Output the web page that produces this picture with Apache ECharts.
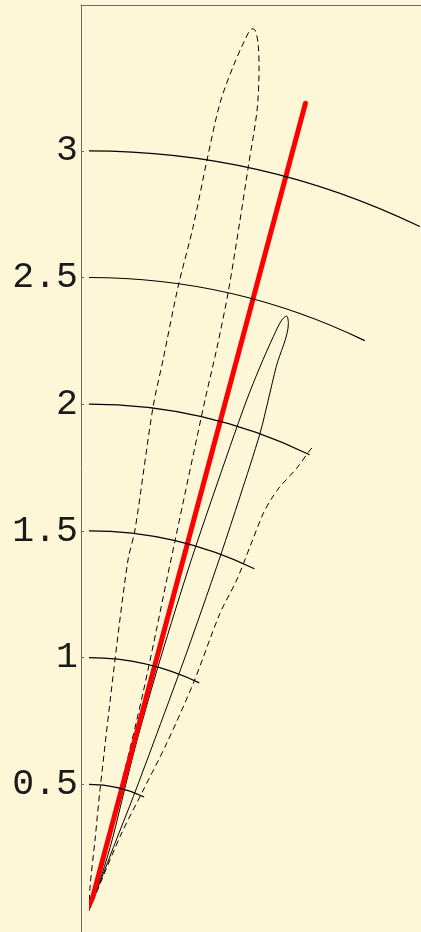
<!DOCTYPE html>
<html>
<head>
<meta charset="utf-8">
<script src="https://cdn.jsdelivr.net/npm/echarts@6/dist/echarts.min.js"></script>
<style>
  html, body { margin: 0; padding: 0; background: #fdf7d8; }
  #chart { width: 421px; height: 932px; }
</style>
</head>
<body>
<div id="chart"></div>
<script>
// Radii of the constant-magnitude arcs and their labels on the left axis
const radialTicks = [0.5, 1, 1.5, 2, 2.5, 3];
const tickLabels = ['0.5', '1', '1.5', '2', '2.5', '3'];

// Angular sweep of the plot, degrees measured clockwise from the vertical
const sweepMax = 25.8;

// Reference direction (thick red ray): [radius, angle]
const redRay = [[0, 15], [3.3, 15]];

// Dashed lobe: [radius, angle]
const dashedLobe = [
  [0, 1.5], [0.095, 2.4], [0.281, 4.83], [0.48, 5.19], [0.996, 5.91],
  [1.394, 6.34], [1.515, 6.88], [2.005, 7.24], [2.194, 7.65], [2.487, 8.12],
  [2.73, 8.65], [3.0, 8.93], [3.23, 9.21], [3.379, 9.68], [3.492, 10.15],
  [3.54, 10.47], [3.538, 10.67], [3.49, 11.02], [3.398, 11.39], [3.23, 11.85],
  [3.004, 12.08], [2.791, 12.33], [2.5, 12.68], [2.271, 12.8], [2.068, 12.79],
  [1.496, 13.08], [1.342, 13.21], [1.152, 13.47], [0.886, 13.91], [0.627, 14.21],
  [0.3, 14.4], [0, 14.5]
];

// Solid lobe: [radius, angle]
const solidLobe = [
  [0, 20.5], [0.15, 19.5], [0.3, 18], [0.5, 16.3], [0.7, 15.7], [1.03, 15.8],
  [1.45, 16.25], [1.92, 16.9], [2.11, 17.15], [2.25, 17.44], [2.38, 17.79],
  [2.453, 18.06], [2.474, 18.38], [2.449, 18.74], [2.272, 18.98], [2.137, 19.33],
  [2.002, 19.7], [1.74, 20.02], [1.5, 20.3], [1.268, 20.53], [1.059, 20.73],
  [0.709, 20.98], [0.484, 21.18], [0.286, 21.0], [0, 20.5]
];

// Open dashed branch: [radius, angle]
const dashedBranch = [
  [0, 21.5], [0.318, 22.65], [0.523, 24.17], [0.729, 24.86], [0.988, 24.61],
  [1.283, 23.75], [1.43, 24.05], [1.572, 23.84], [1.714, 23.67], [1.781, 23.88],
  [1.836, 24.23], [1.93, 25.13], [2.017, 25.61], [2.028, 25.72]
];

// Pixel scale shared by the frame axis and the polar systems
const originX = 89, originY = 911, unitPx = 253.4;
const frameTop = 5, frameLeft = 81, H = 932;
const yTop = (originY - frameTop) / unitPx;
const yBottom = -(H - originY) / unitPx;
// Outer radius of the polar system that carries the curves
const curveRMax = 3.6;

const chart = echarts.init(document.getElementById('chart'), null, { renderer: 'canvas' });

const dash = [6, 4];
const hiddenAxis = {
  axisLine: { show: false }, axisTick: { show: false },
  axisLabel: { show: false }, splitLine: { show: false }
};
const angleCommon = {
  type: 'value', min: 0, max: sweepMax, startAngle: 90, endAngle: 90 - sweepMax,
  clockwise: true
};

chart.setOption({
  backgroundColor: '#fdf7d8',
  animation: false,
  grid: { left: frameLeft, top: frameTop, right: 0, bottom: 0 },
  xAxis: {
    type: 'value', position: 'top', min: 0, max: 1,
    axisLine: { show: true, onZero: false, lineStyle: { color: '#6b6b6b', width: 1 } },
    axisTick: { show: false }, axisLabel: { show: false }, splitLine: { show: false }
  },
  yAxis: {
    type: 'value', min: yBottom, max: yTop,
    axisLine: { show: true, onZero: false, lineStyle: { color: '#6b6b6b', width: 1 } },
    axisTick: { show: true, inside: true, length: 3, customValues: radialTicks,
      lineStyle: { color: '#6b6b6b' } },
    axisLabel: {
      show: true, customValues: radialTicks, margin: 3,
      formatter: v => tickLabels[radialTicks.indexOf(v)] ?? String(v),
      fontFamily: 'Liberation Mono', fontSize: 36.5, color: '#1a1a1a'
    },
    splitLine: { show: false }
  },
  polar: [
    { center: [originX, originY], radius: [0, 3 * unitPx] },
    { center: [originX, originY], radius: [0, curveRMax * unitPx] }
  ],
  radiusAxis: [
    {
      polarIndex: 0, type: 'value', min: 0, max: 3, interval: 0.5, z: 5,
      axisLine: { show: false }, axisTick: { show: false }, axisLabel: { show: false },
      splitLine: { show: true, lineStyle: { color: '#000', width: 1.2 } }
    },
    Object.assign({ polarIndex: 1, type: 'value', min: 0, max: curveRMax }, hiddenAxis)
  ],
  angleAxis: [
    Object.assign({ polarIndex: 0 }, angleCommon, hiddenAxis),
    Object.assign({ polarIndex: 1 }, angleCommon, hiddenAxis)
  ],
  series: [
    {
      type: 'line', coordinateSystem: 'polar', polarIndex: 1, data: dashedLobe,
      showSymbol: false, smooth: 0.3, silent: true,
      lineStyle: { color: '#000', width: 1, type: dash }
    },
    {
      type: 'line', coordinateSystem: 'polar', polarIndex: 1, data: dashedBranch,
      showSymbol: false, smooth: 0.3, silent: true,
      lineStyle: { color: '#000', width: 1, type: dash }
    },
    {
      type: 'line', coordinateSystem: 'polar', polarIndex: 1, data: solidLobe,
      showSymbol: false, smooth: 0.3, silent: true,
      lineStyle: { color: '#000', width: 1 }
    },
    {
      type: 'line', coordinateSystem: 'polar', polarIndex: 1, data: redRay,
      showSymbol: false, silent: true, clip: false,
      lineStyle: { color: '#ff0000', width: 5, cap: 'round' }
    }
  ]
});
</script>
</body>
</html>
